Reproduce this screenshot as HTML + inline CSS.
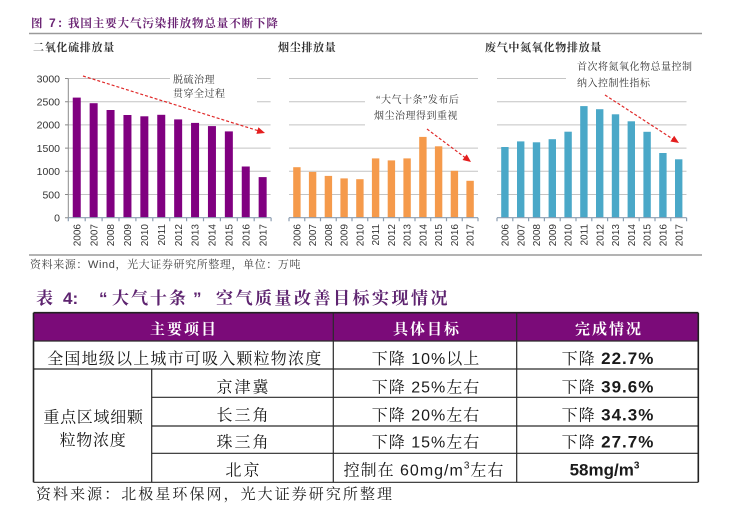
<!DOCTYPE html>
<html><head><meta charset="utf-8"><style>
html,body{margin:0;padding:0;background:#fff;width:731px;height:515px;overflow:hidden}
svg{display:block}
.sv{font-family:"Liberation Serif","Noto Serif CJK SC",serif}
.yr{font-family:"Liberation Sans",sans-serif;font-size:10px;fill:#333}
.yl{font-family:"Liberation Sans",sans-serif;font-size:10.5px;fill:#333}
.st{font-family:"Liberation Serif","Noto Serif CJK SC",serif;font-size:11px;font-weight:bold;fill:#333;letter-spacing:0.7px}
.an{font-family:"Liberation Serif","Noto Serif CJK SC",serif;font-size:10px;fill:#333;letter-spacing:0.5px}
.c{font-family:"Liberation Sans","Noto Serif CJK SC",serif;font-size:16px;fill:#1a1a1a;letter-spacing:1px}
.b{font-weight:bold;font-size:17px}
.h{font-family:"Liberation Sans","Noto Serif CJK SC",serif;font-size:15px;font-weight:bold;fill:#fff;letter-spacing:2px}
.tt{font-family:"Liberation Sans","Noto Serif CJK SC",serif;font-size:17px;font-weight:bold;fill:#5e2470}
</style></head><body>
<svg width="731" height="515" viewBox="0 0 731 515" xmlns="http://www.w3.org/2000/svg">
<!-- Figure title -->
<text x="31" y="27" class="sv" font-size="11.5" font-weight="bold" fill="#6b2474">图</text>
<text x="49" y="27" font-family="Liberation Sans" font-size="12" font-weight="bold" fill="#6b2474">7</text>
<text x="57" y="27" class="sv" font-size="11.5" font-weight="bold" fill="#6b2474">：</text>
<text x="68" y="27" class="sv" font-size="11.5" font-weight="bold" fill="#6b2474" letter-spacing="0.9">我国主要大气污染排放物总量不断下降</text>
<line x1="29" y1="33.5" x2="702" y2="33.5" stroke="#9a9a9a" stroke-width="1.5"/>

<!-- Subtitles -->
<text x="33" y="51" class="st">二氧化硫排放量</text>
<text x="278" y="51" class="st">烟尘排放量</text>
<text x="485" y="51" class="st">废气中氮氧化物排放量</text>

<!-- Gridlines -->
<g stroke="#c4c4c4" stroke-width="1">
<path d="M68.3 78.5H270.6M68.3 101.7H270.6M68.3 124.9H270.6M68.3 148.1H270.6M68.3 171.3H270.6M68.3 194.5H270.6"/>
<path d="M289 78.5H478M289 101.7H478M289 124.9H478M289 148.1H478M289 171.3H478M289 194.5H478"/>
<path d="M497 78.5H686.5M497 101.7H686.5M497 124.9H686.5M497 148.1H686.5M497 171.3H686.5M497 194.5H686.5"/>
</g>
<!-- text boxes masking gridlines -->
<rect x="170" y="68" width="87" height="40" fill="#fff"/>
<rect x="365" y="88" width="115" height="43" fill="#fff"/>
<rect x="566" y="56" width="124" height="36" fill="#fff"/>

<!-- Chart 1 y axis -->
<g stroke="#8a8a8a" stroke-width="1">
<path d="M68.3 78.5V217.7M65 78.5H68.3M65 101.7H68.3M65 124.9H68.3M65 148.1H68.3M65 171.3H68.3M65 194.5H68.3M65 217.7H68.3"/>
</g>
<g class="yl" text-anchor="end">
<text x="60" y="82.3">3000</text>
<text x="60" y="105.5">2500</text>
<text x="60" y="128.7">2000</text>
<text x="60" y="151.9">1500</text>
<text x="60" y="175.1">1000</text>
<text x="60" y="198.3">500</text>
<text x="60" y="221.5">0</text>
</g>

<!-- Chart 1 bars -->
<g fill="#800080">
<rect x="72.75" y="97.6" width="8" height="120.1"/>
<rect x="89.65" y="103.2" width="8" height="114.5"/>
<rect x="106.55" y="110.0" width="8" height="107.7"/>
<rect x="123.45" y="115.0" width="8" height="102.7"/>
<rect x="140.35" y="116.3" width="8" height="101.4"/>
<rect x="157.25" y="114.8" width="8" height="102.9"/>
<rect x="174.15" y="119.4" width="8" height="98.3"/>
<rect x="191.05" y="122.9" width="8" height="94.8"/>
<rect x="207.95" y="126.1" width="8" height="91.6"/>
<rect x="224.85" y="131.4" width="8" height="86.3"/>
<rect x="241.75" y="166.5" width="8" height="51.2"/>
<rect x="258.65" y="177.1" width="8" height="40.6"/>
</g>
<!-- Chart 2 bars -->
<g fill="#f59a4b">
<rect x="293.2" y="167.2" width="7.4" height="50.5"/>
<rect x="308.9" y="171.9" width="7.4" height="45.8"/>
<rect x="324.7" y="175.9" width="7.4" height="41.8"/>
<rect x="340.4" y="178.4" width="7.4" height="39.3"/>
<rect x="356.2" y="179.2" width="7.4" height="38.5"/>
<rect x="371.9" y="158.4" width="7.4" height="59.3"/>
<rect x="387.7" y="160.4" width="7.4" height="57.3"/>
<rect x="403.4" y="158.4" width="7.4" height="59.3"/>
<rect x="419.2" y="136.9" width="7.4" height="80.8"/>
<rect x="434.9" y="146.3" width="7.4" height="71.4"/>
<rect x="450.7" y="170.8" width="7.4" height="46.9"/>
<rect x="466.4" y="180.8" width="7.4" height="36.9"/>
</g>
<!-- Chart 3 bars -->
<g fill="#4aa8c8">
<rect x="501.2" y="147.0" width="7.4" height="70.7"/>
<rect x="517.0" y="141.4" width="7.4" height="76.3"/>
<rect x="532.8" y="142.3" width="7.4" height="75.4"/>
<rect x="548.6" y="139.2" width="7.4" height="78.5"/>
<rect x="564.4" y="131.7" width="7.4" height="86.0"/>
<rect x="580.2" y="106.1" width="7.4" height="111.6"/>
<rect x="596.0" y="109.2" width="7.4" height="108.5"/>
<rect x="611.8" y="114.3" width="7.4" height="103.4"/>
<rect x="627.6" y="121.3" width="7.4" height="96.4"/>
<rect x="643.4" y="131.8" width="7.4" height="85.9"/>
<rect x="659.2" y="153.0" width="7.4" height="64.7"/>
<rect x="675.0" y="159.3" width="7.4" height="58.4"/>
</g>

<!-- baselines & ticks -->
<g stroke="#8b9db0" stroke-width="1.2">
<path d="M68.3 217.7H271.1M289 217.7H478M497 217.7H686.6"/>
<path d="M68.3 217.7v3.5M85.2 217.7v3.5M102.1 217.7v3.5M119 217.7v3.5M135.9 217.7v3.5M152.8 217.7v3.5M169.7 217.7v3.5M186.6 217.7v3.5M203.5 217.7v3.5M220.4 217.7v3.5M237.3 217.7v3.5M254.2 217.7v3.5M271.1 217.7v3.5"/>
<path d="M289 217.7v3.5M304.75 217.7v3.5M320.5 217.7v3.5M336.25 217.7v3.5M352 217.7v3.5M367.75 217.7v3.5M383.5 217.7v3.5M399.25 217.7v3.5M415 217.7v3.5M430.75 217.7v3.5M446.5 217.7v3.5M462.25 217.7v3.5M478 217.7v3.5"/>
<path d="M497 217.7v3.5M512.8 217.7v3.5M528.6 217.7v3.5M544.4 217.7v3.5M560.2 217.7v3.5M576 217.7v3.5M591.8 217.7v3.5M607.6 217.7v3.5M623.4 217.7v3.5M639.2 217.7v3.5M655 217.7v3.5M670.8 217.7v3.5M686.6 217.7v3.5"/>
</g>

<!-- Year labels -->
<g class="yr" text-anchor="end">
<text transform="translate(80.35,224) rotate(-90)">2006</text>
<text transform="translate(97.25,224) rotate(-90)">2007</text>
<text transform="translate(114.15,224) rotate(-90)">2008</text>
<text transform="translate(131.05,224) rotate(-90)">2009</text>
<text transform="translate(147.95,224) rotate(-90)">2010</text>
<text transform="translate(164.85,224) rotate(-90)">2011</text>
<text transform="translate(181.75,224) rotate(-90)">2012</text>
<text transform="translate(198.65,224) rotate(-90)">2013</text>
<text transform="translate(215.55,224) rotate(-90)">2014</text>
<text transform="translate(232.45,224) rotate(-90)">2015</text>
<text transform="translate(249.35,224) rotate(-90)">2016</text>
<text transform="translate(266.25,224) rotate(-90)">2017</text>

<text transform="translate(300.5,224) rotate(-90)">2006</text>
<text transform="translate(316.2,224) rotate(-90)">2007</text>
<text transform="translate(332.0,224) rotate(-90)">2008</text>
<text transform="translate(347.7,224) rotate(-90)">2009</text>
<text transform="translate(363.5,224) rotate(-90)">2010</text>
<text transform="translate(379.2,224) rotate(-90)">2011</text>
<text transform="translate(395.0,224) rotate(-90)">2012</text>
<text transform="translate(410.7,224) rotate(-90)">2013</text>
<text transform="translate(426.5,224) rotate(-90)">2014</text>
<text transform="translate(442.2,224) rotate(-90)">2015</text>
<text transform="translate(458.0,224) rotate(-90)">2016</text>
<text transform="translate(473.7,224) rotate(-90)">2017</text>

<text transform="translate(508.5,224) rotate(-90)">2006</text>
<text transform="translate(524.3,224) rotate(-90)">2007</text>
<text transform="translate(540.1,224) rotate(-90)">2008</text>
<text transform="translate(555.9,224) rotate(-90)">2009</text>
<text transform="translate(571.7,224) rotate(-90)">2010</text>
<text transform="translate(587.5,224) rotate(-90)">2011</text>
<text transform="translate(603.3,224) rotate(-90)">2012</text>
<text transform="translate(619.1,224) rotate(-90)">2013</text>
<text transform="translate(634.9,224) rotate(-90)">2014</text>
<text transform="translate(650.7,224) rotate(-90)">2015</text>
<text transform="translate(666.5,224) rotate(-90)">2016</text>
<text transform="translate(682.3,224) rotate(-90)">2017</text>
</g>

<!-- Annotations -->
<text x="173" y="83" class="an">脱硫治理</text>
<text x="173" y="97" class="an">贯穿全过程</text>
<text x="376" y="103" class="an">“大气十条”发布后</text>
<text x="374" y="119" class="an">烟尘治理得到重视</text>
<text x="577" y="70" class="an">首次将氮氧化物总量控制</text>
<text x="577" y="86.5" class="an">纳入控制性指标</text>

<!-- Arrows -->
<g stroke="#e02a2a" stroke-width="1.2" stroke-dasharray="3,2" fill="none">
<line x1="83" y1="76" x2="258" y2="130.7"/>
<line x1="427" y1="129" x2="465" y2="157.5"/>
<line x1="605" y1="95" x2="672.5" y2="138.8"/>
</g>
<g fill="#e41e1e">
<polygon points="265,133 256.4,133.9 258.4,127.3"/>
<polygon points="471,162 462.5,160 466.7,154.4"/>
<polygon points="679,143 670.4,141.5 674.2,135.7"/>
</g>

<!-- divider & source -->
<line x1="29" y1="255" x2="702" y2="255" stroke="#9a9a9a" stroke-width="1.5"/>
<text x="30" y="268" font-family="Liberation Sans, Noto Serif CJK SC, serif" font-size="11" fill="#444" letter-spacing="0.6"><tspan font-family="Noto Serif CJK SC, serif">资料来源：</tspan>Wind<tspan font-family="Noto Serif CJK SC, serif">，光大证券研究所整理，单位：万吨</tspan></text>

<!-- Table title -->
<text x="36" y="304" class="tt" font-family="Noto Serif CJK SC, serif">表</text>
<text x="63" y="304" class="tt" font-family="Liberation Sans, sans-serif">4:</text>
<text x="99" y="304" class="tt" font-family="Liberation Serif, serif">“</text>
<text x="112" y="304" class="tt" letter-spacing="2">大气十条</text>
<text x="193" y="304" class="tt" font-family="Liberation Serif, serif">”</text>
<text x="216" y="304" class="tt" letter-spacing="2.5">空气质量改善目标实现情况</text>

<!-- Table -->
<rect x="33.5" y="312.7" width="664.8" height="28.3" fill="#7b0b79"/>
<g stroke="#2a2a2a" stroke-width="1.2" fill="none">
<path d="M33.5 341H698.3M33.5 369H698.3M151.7 397.3H698.3M151.7 426H698.3M151.7 453.3H698.3M33.5 482.3H698.3"/>
<path d="M333.3 312.7V482.3M516.7 312.7V482.3M151.7 369V482.3"/>
</g>
<g stroke="#222" stroke-width="1.6" fill="none">
<path d="M33.5 312.7V482.3M698.3 312.7V482.3M33.5 312.7H698.3"/>
</g>

<g class="h" text-anchor="middle">
<text x="184" y="334">主要项目</text>
<text x="427" y="334">具体目标</text>
<text x="609" y="334">完成情况</text>
</g>

<g class="c" text-anchor="middle">
<text x="184.8" y="364" letter-spacing="1.2">全国地级以上城市可吸入颗粒物浓度</text>
<text x="426" y="364">下降 10%以上</text>
<text x="608" y="364">下降 <tspan class="b">22.7%</tspan></text>

<text x="243.5" y="392.5" letter-spacing="2">京津冀</text>
<text x="426" y="392.5">下降 25%左右</text>
<text x="608" y="392.5">下降 <tspan class="b">39.6%</tspan></text>

<text x="243.5" y="420.7" letter-spacing="2">长三角</text>
<text x="426" y="420.7">下降 20%左右</text>
<text x="608" y="420.7">下降 <tspan class="b">34.3%</tspan></text>

<text x="243.5" y="447.4" letter-spacing="2">珠三角</text>
<text x="426" y="447.4">下降 15%左右</text>
<text x="608" y="447.4">下降 <tspan class="b">27.7%</tspan></text>

<text x="243.5" y="475.7" letter-spacing="2">北京</text>
<text x="424" y="475.7">控制在 60mg/m<tspan font-size="10" dy="-7">3</tspan><tspan dy="7">左右</tspan></text>
<text x="605" y="475.7"><tspan class="b" letter-spacing="0">58mg/m</tspan><tspan font-size="10" font-weight="bold" dy="-7">3</tspan></text>

<text x="93.5" y="422.4" letter-spacing="0.7">重点区域细颗</text>
<text x="93" y="445.7" letter-spacing="0.7">粒物浓度</text>
</g>

<!-- bottom source -->
<text x="36" y="499" font-family="Liberation Serif, Noto Serif CJK SC, serif" font-size="15" fill="#222" letter-spacing="2.05">资料来源：北极星环保网，光大证券研究所整理</text>
</svg>
</body></html>
